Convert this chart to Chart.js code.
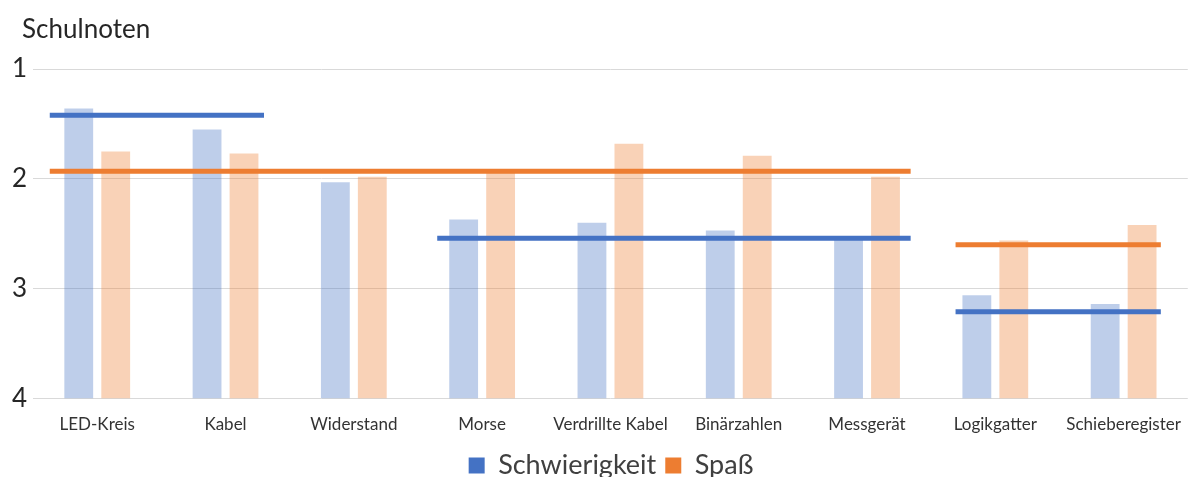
<!DOCTYPE html>
<html>
<head>
<meta charset="utf-8">
<script src="https://cdn.jsdelivr.net/npm/chart.js@4.4.1/dist/chart.umd.min.js"></script>
<style>
  html, body { margin: 0; padding: 0; background: #ffffff; }
  #wrap { width: 1189px; height: 477px; }
</style>
</head>
<body>
<div id="wrap"><canvas id="c" width="1189" height="477"></canvas></div>
<script>
// Themen der Stationen
const categories = ['LED-Kreis', 'Kabel', 'Widerstand', 'Morse', 'Verdrillte Kabel',
                    'Binärzahlen', 'Messgerät', 'Logikgatter', 'Schieberegister'];

// Durchschnittsnoten je Station (1 = beste Note)
const schwierigkeit = [1.36, 1.55, 2.03, 2.37, 2.40, 2.47, 2.55, 3.06, 3.14];
const spass         = [1.75, 1.77, 1.98, 1.92, 1.68, 1.79, 1.98, 2.56, 2.42];

// Notenskala
const yTicks = [1, 2, 3, 4];
const gradeWorst = 4;

// Mittelwerte je Themenblock: von/bis in Stationsindex, Note
const schwierigkeitMittelVon  = [-0.37, 2.65, 6.69];
const schwierigkeitMittelBis  = [1.30, 6.34, 8.29];
const schwierigkeitMittelWert = [1.42, 2.54, 3.21];
const spassMittelVon  = [-0.37, 6.69];
const spassMittelBis  = [6.34, 8.29];
const spassMittelWert = [1.93, 2.60];

const BLUE = '#4472C4';
const ORANGE = '#ED7D31';

function segments(von, bis, wert) {
  const pts = [];
  wert.forEach((w, i) => {
    pts.push({ x: von[i], y: w });
    pts.push({ x: bis[i], y: w });
    pts.push({ x: bis[i], y: null });
  });
  return pts;
}

const axisTitle = {
  id: 'axisTitle',
  afterDraw(chart) {
    const ctx = chart.ctx;
    ctx.save();
    ctx.font = '26px Lato';
    ctx.fillStyle = '#262626';
    ctx.textAlign = 'left';
    ctx.textBaseline = 'alphabetic';
    ctx.fillText('Schulnoten', chart.chartArea.left - 11, 38);
    ctx.restore();
  }
};

// legend sits a little right of the canvas centre
const legendShift = {
  id: 'legendShift',
  afterLayout(chart) {
    const lg = chart.legend;
    if (lg) { lg.left += 14; lg.right += 14; }
  }
};

// the two mean lines share the category slots with the bars,
// so the bars take the two middle slots of four
const barCommon = {
  borderWidth: 0,
  categoryPercentage: 1.152,
  barPercentage: 0.78,
  order: 1
};

const lineCommon = {
  type: 'line',
  xAxisID: 'xl',
  borderWidth: 5,
  borderCapStyle: 'butt',
  pointRadius: 0,
  spanGaps: false,
  order: 0
};

new Chart(document.getElementById('c'), {
  type: 'bar',
  data: {
    labels: categories,
    datasets: [
      Object.assign({
        label: 'Schwierigkeit',
        data: segments(schwierigkeitMittelVon, schwierigkeitMittelBis, schwierigkeitMittelWert),
        borderColor: BLUE,
        backgroundColor: BLUE
      }, lineCommon),
      Object.assign({
        label: 'Schwierigkeit (Station)',
        data: schwierigkeit.map(v => [gradeWorst, v]),
        backgroundColor: 'rgba(68,114,196,0.35)'
      }, barCommon),
      Object.assign({
        label: 'Spaß (Station)',
        data: spass.map(v => [gradeWorst, v]),
        backgroundColor: 'rgba(237,125,49,0.35)'
      }, barCommon),
      Object.assign({
        label: 'Spaß',
        data: segments(spassMittelVon, spassMittelBis, spassMittelWert),
        borderColor: ORANGE,
        backgroundColor: ORANGE
      }, lineCommon)
    ]
  },
  options: {
    responsive: false,
    animation: false,
    devicePixelRatio: 1,
    layout: { padding: { top: 69, left: 6, right: 1, bottom: -12 } },
    scales: {
      x: {
        type: 'category',
        offset: true,
        grid: { display: false },
        border: { display: false },
        ticks: {
          font: { family: 'Lato', size: 17 },
          color: '#333333',
          padding: 8,
          maxRotation: 0,
          autoSkip: false
        }
      },
      xl: {
        type: 'linear',
        display: false,
        offset: false,
        min: -0.5,
        max: categories.length - 0.5
      },
      y: {
        min: yTicks[0],
        max: yTicks[yTicks.length - 1],
        reverse: true,
        afterBuildTicks(axis) { axis.ticks = yTicks.map(v => ({ value: v })); },
        grid: { color: '#D9D9D9', lineWidth: 1, drawTicks: false },
        border: { display: false },
        ticks: {
          font: { family: 'Lato', size: 26 },
          color: '#262626',
          padding: 6
        }
      }
    },
    plugins: {
      tooltip: { enabled: false },
      legend: {
        position: 'bottom',
        labels: {
          boxWidth: 16,
          boxHeight: 16,
          padding: 9,
          color: '#404040',
          font: { family: 'Lato', size: 27 },
          generateLabels(chart) {
            return chart.data.datasets
              .map((ds, i) => ({
                text: ds.label,
                fillStyle: ds.borderColor,
                strokeStyle: ds.borderColor,
                lineWidth: 0,
                fontColor: '#404040',
                hidden: !chart.isDatasetVisible(i),
                datasetIndex: i,
                type: ds.type
              }))
              .filter(it => it.type === 'line');
          }
        }
      }
    }
  },
  plugins: [axisTitle, legendShift]
});
</script>
</body>
</html>
